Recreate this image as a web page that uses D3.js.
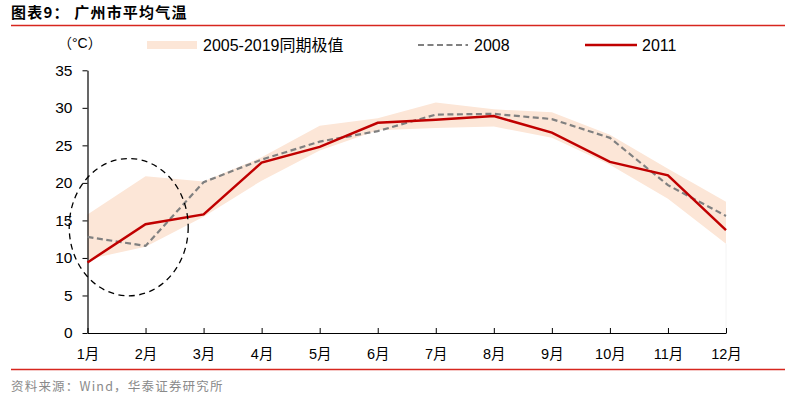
<!DOCTYPE html>
<html><head><meta charset="utf-8">
<script src="https://cdn.jsdelivr.net/npm/d3@7"></script>
<style>body{margin:0;background:#fff}svg{display:block}</style>
</head><body>
<script>
const months = ["1月","2月","3月","4月","5月","6月","7月","8月","9月","10月","11月","12月"];
const bandMax = [15.8,20.9,20.2,23.4,27.6,28.6,30.7,29.8,29.4,26.4,21.9,17.5];
const bandMin = [9.8,11.5,15.5,20.3,24.3,27.0,27.3,27.5,26.0,22.4,17.9,11.9];
const s2008 = [12.8,11.6,20.1,23.1,25.5,26.9,29.1,29.2,28.5,26.0,19.7,15.6];
const s2011 = [9.4,14.5,15.8,22.7,24.8,28.0,28.4,28.9,26.7,22.8,21.0,13.7];
const yTicks = [0,5,10,15,20,25,30,35];
const title = "图表9： 广州市平均气温";
const source = "资料来源：Wind，华泰证券研究所";
const unit = "（°C）";
const legendLabels = ["2005-2019同期极值","2008","2011"];

const W=795,H=398;
const svg=d3.select("body").append("svg").attr("width",W).attr("height",H);
const FONT="'Liberation Sans','Noto Sans CJK SC',sans-serif";
const CJK="'Noto Sans CJK SC',sans-serif";

// header & footer
svg.append("text").attr("x",11).attr("y",18).text(title)
  .attr("font-family",CJK).attr("font-weight","bold").attr("font-size",15).attr("letter-spacing",1.2).attr("fill","#000");
svg.append("line").attr("x1",11).attr("x2",785).attr("y1",25.5).attr("y2",25.5).attr("stroke","#d7261e").attr("stroke-width",1.3);
svg.append("line").attr("x1",11).attr("x2",785).attr("y1",369.5).attr("y2",369.5).attr("stroke","#d7261e").attr("stroke-width",1.3);
svg.append("text").attr("x",11).attr("y",391).text(source)
  .attr("font-family",CJK).attr("font-size",12.5).attr("fill","#8a8a8a").attr("letter-spacing",1.2);

const x=d3.scalePoint().domain(months).range([87.5,726]);
const y=d3.scaleLinear().domain([0,35]).range([333,70.3]);

// band
const area=d3.area().x((d,i)=>x(months[i])).y0((d,i)=>y(bandMin[i])).y1((d,i)=>y(bandMax[i]));
svg.append("path").datum(bandMax).attr("d",area).attr("fill","#fce6d7");
svg.append("line").attr("x1",x(months[11])).attr("x2",x(months[11])).attr("y1",y(bandMin[11])).attr("y2",y(0))
  .attr("stroke","#f4f4f4").attr("stroke-width",1);

// axes
const yAxis=svg.append("g").attr("transform",`translate(${x(months[0])},0)`)
  .call(d3.axisLeft(y).tickValues(yTicks).tickSize(5).tickSizeOuter(0));
yAxis.select(".domain").attr("stroke","#000").attr("stroke-width",1.2);
yAxis.selectAll(".tick line").attr("stroke","#000");
yAxis.selectAll(".tick text").attr("font-family",FONT).attr("font-size",15.5).attr("fill","#000").attr("dx",-7);
const xAxis=svg.append("g").attr("transform",`translate(0,${y(0)})`)
  .call(d3.axisBottom(x).tickSize(5).tickSizeOuter(0));
xAxis.select(".domain").attr("stroke","#000").attr("stroke-width",1.2);
xAxis.selectAll(".tick line").attr("stroke","#000").attr("y1",0).attr("y2",-5);
xAxis.selectAll(".tick text").attr("font-family",FONT).attr("font-size",14.5).attr("fill","#000").attr("dy",18);

svg.append("text").attr("x",58).attr("y",48).text(unit).attr("font-family",FONT).attr("font-size",14).attr("fill","#000");

// lines
const line=d3.line().x((d,i)=>x(months[i])).y(d=>y(d));
svg.append("path").datum(s2008).attr("d",line).attr("fill","none").attr("stroke","#808080")
  .attr("stroke-width",2.2).attr("stroke-dasharray","6,3.5");
svg.append("path").datum(s2011).attr("d",line).attr("fill","none").attr("stroke","#c00000")
  .attr("stroke-width",2.5);

// annotation ellipse (month position 1.71, value 14)
const step=x.step();
svg.append("ellipse").attr("cx",x(months[0])+0.71*step).attr("cy",y(14.1))
  .attr("rx",1.025*step).attr("ry",y(0)-y(9.15))
  .attr("fill","none").attr("stroke","#000").attr("stroke-width",1.3).attr("stroke-dasharray","6,4.5");

// legend
const lg=svg.append("g");
lg.append("rect").attr("x",147).attr("y",41).attr("width",50).attr("height",8).attr("fill","#fce6d7");
lg.append("text").attr("x",203).attr("y",51).text(legendLabels[0]).attr("font-family",FONT).attr("font-size",16).attr("fill","#000");
lg.append("line").attr("x1",418).attr("x2",468).attr("y1",45).attr("y2",45).attr("stroke","#808080").attr("stroke-width",2.2).attr("stroke-dasharray","6,3.5");
lg.append("text").attr("x",474).attr("y",51).text(legendLabels[1]).attr("font-family",FONT).attr("font-size",16).attr("fill","#000");
lg.append("line").attr("x1",585).attr("x2",637).attr("y1",45).attr("y2",45).attr("stroke","#c00000").attr("stroke-width",2.5);
lg.append("text").attr("x",642).attr("y",51).text(legendLabels[2]).attr("font-family",FONT).attr("font-size",16).attr("fill","#000");
</script>
</body></html>
